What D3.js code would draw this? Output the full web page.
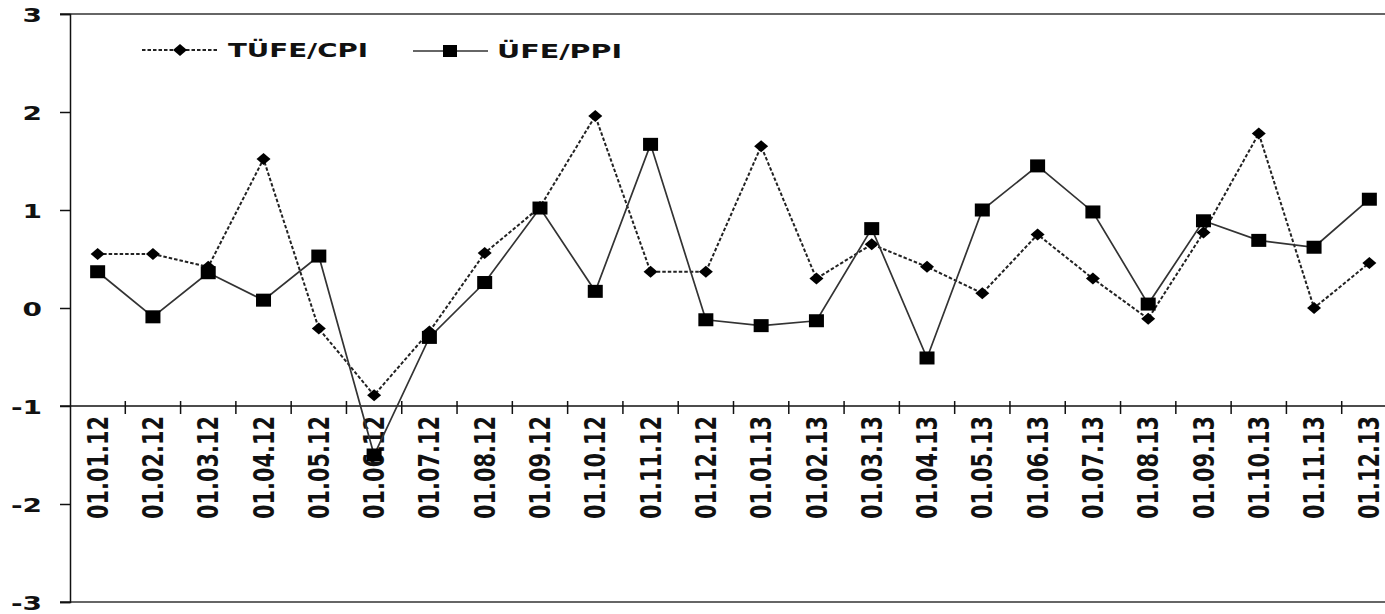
<!DOCTYPE html>
<html lang="tr">
<head>
<meta charset="UTF-8">
<script src="https://d3js.org/d3.v7.min.js"></script>
<style>
    body { margin: 0; background: #fff; }
    svg { display: block; font-family: "DejaVu Sans", Verdana, sans-serif; font-weight: bold; }
</style>
</head>
<body>
<svg id="chart" width="1385" height="614"></svg>
<script>
// monthly change, %
var months = ["01.01.12","01.02.12","01.03.12","01.04.12","01.05.12","01.06.12",
              "01.07.12","01.08.12","01.09.12","01.10.12","01.11.12","01.12.12",
              "01.01.13","01.02.13","01.03.13","01.04.13","01.05.13","01.06.13",
              "01.07.13","01.08.13","01.09.13","01.10.13","01.11.13","01.12.13"];
var cpi = [0.55, 0.55, 0.42, 1.52, -0.21, -0.89, -0.24, 0.56, 1.03, 1.96, 0.37, 0.37,
           1.65, 0.30, 0.65, 0.42, 0.15, 0.75, 0.30, -0.11, 0.77, 1.78, 0.00, 0.46];
var ppi = [0.37, -0.09, 0.36, 0.08, 0.53, -1.50, -0.30, 0.26, 1.02, 0.17, 1.67, -0.12,
           -0.18, -0.13, 0.81, -0.51, 1.00, 1.45, 0.98, 0.04, 0.89, 0.69, 0.62, 1.11];
var yTicks = [-3, -2, -1, 0, 1, 2, 3];
var seriesNames = ["TÜFE/CPI", "ÜFE/PPI"];

var svg = d3.select("#chart");
var plotLeft = 70, plotRight = 1397, plotTop = 14, plotBottom = 602;
var stretch = 1.4;

var x = d3.scaleBand().domain(months).range([plotLeft, plotRight]).paddingInner(0).paddingOuter(0);
var y = d3.scaleLinear().domain([-3, 3]).range([plotBottom, plotTop]);
var cx = function(i) { return x(months[i]) + x.bandwidth() / 2; };

// diamond marker, a bit wider than tall
var wideDiamond = {
    draw: function(ctx, size) {
        var w = 7, h = 6;
        ctx.moveTo(0, -h); ctx.lineTo(w, 0); ctx.lineTo(0, h); ctx.lineTo(-w, 0); ctx.closePath();
    }
};

// plot area frame (top/bottom)
svg.append("line").attr("x1", 60).attr("x2", plotRight).attr("y1", y(3)).attr("y2", y(3))
    .attr("stroke", "#333").attr("stroke-width", 1.5);
svg.append("line").attr("x1", 60).attr("x2", plotRight).attr("y1", y(-3)).attr("y2", y(-3))
    .attr("stroke", "#333").attr("stroke-width", 1.5);

// y axis
var yAxis = svg.append("g")
    .attr("transform", "translate(" + plotLeft + ",0)")
    .call(d3.axisLeft(y).tickValues(yTicks).tickSize(10).tickFormat(function(d) { return String(d); }));
yAxis.select(".domain").attr("stroke", "#111").attr("stroke-width", 1.5);
yAxis.selectAll(".tick line").attr("stroke", "#111").attr("stroke-width", 1.5);
yAxis.selectAll(".tick text")
    .attr("x", null)
    .attr("dy", "0.36em")
    .attr("transform", "translate(-28,0) scale(" + stretch + ",1)")
    .attr("fill", "#111")
    .style("font-size", "20px")
    .style("font-family", "'DejaVu Sans', Verdana, sans-serif")
    .style("font-weight", "bold");

// category axis sits at -1
var axisY = y(-1);
svg.append("line").attr("x1", 60).attr("x2", plotRight).attr("y1", axisY).attr("y2", axisY)
    .attr("stroke", "#111").attr("stroke-width", 1.5);
svg.append("g").selectAll("line")
    .data(months.slice(1))
    .enter().append("line")
    .attr("x1", function(d) { return x(d); })
    .attr("x2", function(d) { return x(d); })
    .attr("y1", axisY - 5).attr("y2", axisY + 8)
    .attr("stroke", "#111").attr("stroke-width", 1.5);
svg.append("g").selectAll("text")
    .data(months)
    .enter().append("text")
    .attr("transform", function(d) {
        return "translate(" + (x(d) + x.bandwidth() / 2) + "," + (axisY + 10) + ") scale(" + stretch + ",1) rotate(-90)";
    })
    .attr("text-anchor", "end")
    .attr("dy", "0.36em")
    .attr("textLength", 103)
    .attr("lengthAdjust", "spacingAndGlyphs")
    .attr("fill", "#111")
    .style("font-size", "20px")
    .text(function(d) { return d; });

// lines
var line = d3.line().x(function(d, i) { return cx(i); }).y(function(d) { return y(d); });

svg.append("path").datum(cpi)
    .attr("d", line).attr("fill", "none")
    .attr("stroke", "#222").attr("stroke-width", 2).attr("stroke-dasharray", "3.5,2");
svg.append("g").selectAll("path")
    .data(cpi).enter().append("path")
    .attr("d", d3.symbol(wideDiamond))
    .attr("transform", function(d, i) { return "translate(" + cx(i) + "," + y(d) + ")"; })
    .attr("fill", "#000");

svg.append("path").datum(ppi)
    .attr("d", line).attr("fill", "none")
    .attr("stroke", "#333").attr("stroke-width", 1.7);
svg.append("g").selectAll("rect")
    .data(ppi).enter().append("rect")
    .attr("x", function(d, i) { return cx(i) - 7.5; })
    .attr("y", function(d) { return y(d) - 6.5; })
    .attr("width", 15).attr("height", 13)
    .attr("fill", "#000");

// legend
var leg = svg.append("g");
leg.append("line").attr("x1", 142).attr("x2", 218).attr("y1", 50).attr("y2", 50)
    .attr("stroke", "#222").attr("stroke-width", 2).attr("stroke-dasharray", "3.5,2");
leg.append("path").attr("d", d3.symbol(wideDiamond)).attr("transform", "translate(180,50)").attr("fill", "#000");
leg.append("text").attr("x", 228).attr("y", 57)
    .attr("textLength", 140).attr("lengthAdjust", "spacingAndGlyphs")
    .style("font-size", "19px").attr("fill", "#111").text(seriesNames[0]);

leg.append("line").attr("x1", 413).attr("x2", 488).attr("y1", 51).attr("y2", 51)
    .attr("stroke", "#333").attr("stroke-width", 1.7);
leg.append("rect").attr("x", 443).attr("y", 45).attr("width", 14).attr("height", 12).attr("fill", "#000");
leg.append("text").attr("x", 497).attr("y", 58)
    .attr("textLength", 125).attr("lengthAdjust", "spacingAndGlyphs")
    .style("font-size", "19px").attr("fill", "#111").text(seriesNames[1]);
</script>
</body>
</html>
